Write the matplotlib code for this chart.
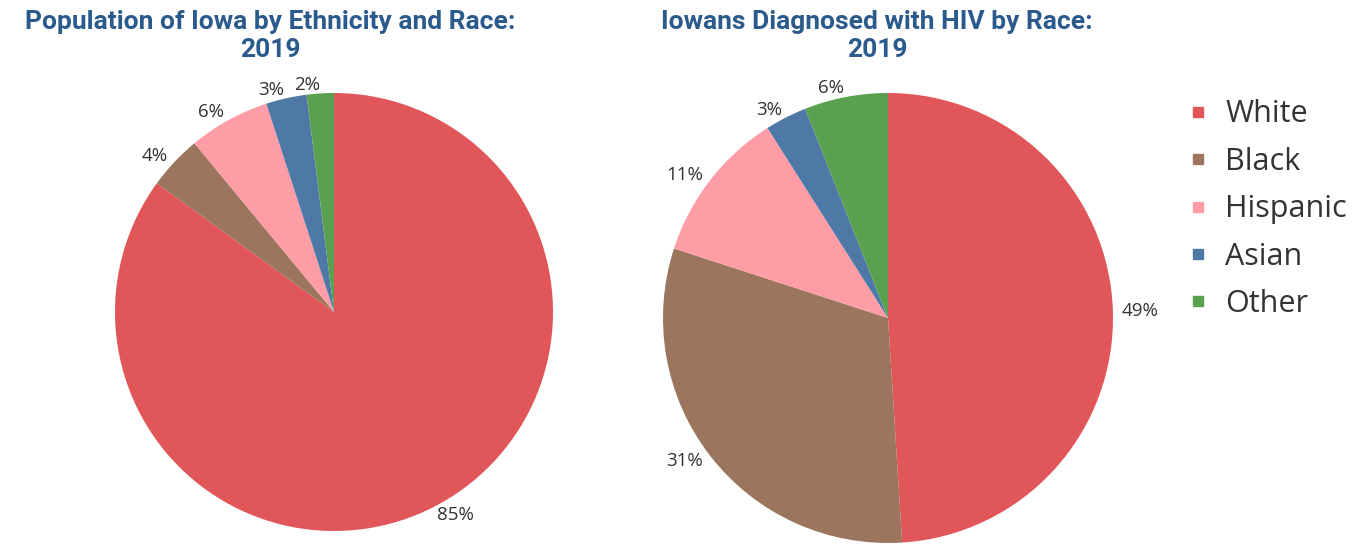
import matplotlib.pyplot as plt
from matplotlib.lines import Line2D

# data
races = ['White', 'Black', 'Hispanic', 'Asian', 'Other']
iowa_pop_pct = [85, 4, 6, 3, 2]
hiv_diag_pct = [49, 31, 11, 3, 6]
colors = ['#E15759', '#9C755F', '#FF9DA7', '#4E79A7', '#59A14F']

title_left = 'Population of Iowa by Ethnicity and Race:\n2019'
title_right = 'Iowans Diagnosed with HIV by Race:\n2019'

W, H = 1371, 544
fig = plt.figure(figsize=(W / 100, H / 100), dpi=100)


# make an axes of radius r pixels around (cx, cy) pixel position (y from top)
def pie_axes(cx, cy, r):
    return fig.add_axes([(cx - r) / W, (H - cy - r) / H, 2 * r / W, 2 * r / H])


label_font = dict(family=['Open Sans', 'DejaVu Sans'], fontsize=13.5, color='#333333')


def draw_pie(ax, values):
    ax.pie(values, colors=colors, startangle=90, counterclock=False, radius=1,
           labels=[f'{v}%' for v in values], labeldistance=1.04,
           textprops=label_font, wedgeprops=dict(linewidth=0))
    ax.set_xlim(-1, 1)
    ax.set_ylim(-1, 1)
    ax.set_aspect('equal')
    ax.axis('off')


ax1 = pie_axes(334, 312, 219)
draw_pie(ax1, iowa_pop_pct)

ax2 = pie_axes(888, 318, 225)
draw_pie(ax2, hiv_diag_pct)

# titles
title_style = dict(fontsize=19, fontweight='bold', color='#2B5A8C', ha='center', va='top',
                   family=['Roboto', 'DejaVu Sans'], linespacing=1.2)
fig.text(270 / W, 1 - 10 / H, title_left, **title_style)
fig.text(877 / W, 1 - 10 / H, title_right, **title_style)

# legend
handles = [Line2D([], [], marker='s', linestyle='none', markersize=7, color=c) for c in colors]
fig.legend(handles, races, loc='upper left', bbox_to_anchor=(1161 / W, 1 - 72 / H),
           frameon=False, handlelength=0.6, handletextpad=0.6, labelspacing=0.57,
           prop=dict(family=['Open Sans', 'DejaVu Sans'], size=22), labelcolor='#333333')

plt.savefig('out.png', dpi=100)
